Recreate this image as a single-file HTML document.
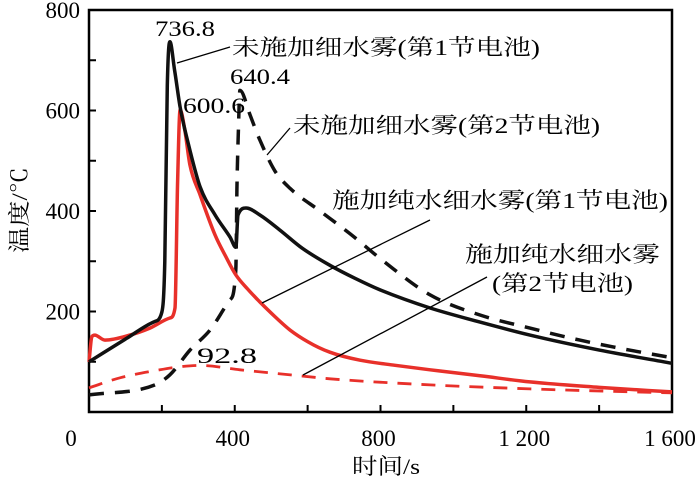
<!DOCTYPE html>
<html><head><meta charset="utf-8"><style>
html,body{margin:0;padding:0;background:#fff;}
svg{display:block;font-family:"Liberation Serif","Noto Serif CJK SC",serif;}
</style></head><body>
<svg id="chart" width="700" height="486" viewBox="0 0 700 486">
<g id="axes"></g>
<g id="series"></g>
<g id="annot" font-size="22" fill="#000">
  <text x="155" y="36" textLength="60" lengthAdjust="spacingAndGlyphs">736.8</text>
  <text x="230" y="84" textLength="60" lengthAdjust="spacingAndGlyphs">640.4</text>
  <text x="183" y="113" textLength="62" lengthAdjust="spacingAndGlyphs">600.6</text>
  <text x="197" y="363" textLength="60" lengthAdjust="spacingAndGlyphs">92.8</text>
  <text x="232" y="55" textLength="308" lengthAdjust="spacingAndGlyphs">未施加细水雾(第1节电池)</text>
  <text x="293" y="133" textLength="307" lengthAdjust="spacingAndGlyphs">未施加细水雾(第2节电池)</text>
  <text x="332" y="208" textLength="336" lengthAdjust="spacingAndGlyphs">施加纯水细水雾(第1节电池)</text>
  <text x="465" y="262" textLength="195" lengthAdjust="spacingAndGlyphs">施加纯水细水雾</text>
  <text x="492" y="291" textLength="141" lengthAdjust="spacingAndGlyphs">(第2节电池)</text>
  <g stroke="#000" stroke-width="1.3">
    <line x1="177" y1="63" x2="230" y2="47"/>
    <line x1="267" y1="155" x2="290" y2="128"/>
    <line x1="262" y1="303" x2="430" y2="220"/>
    <line x1="303" y1="375" x2="487" y2="277"/>
  </g>
  <text x="352" y="474" textLength="68" lengthAdjust="spacingAndGlyphs">时间/s</text>
  <text transform="translate(27,253) rotate(-90)" textLength="86" lengthAdjust="spacingAndGlyphs">温度/℃</text>
</g>
</svg>
<script>
const xTicks=[0,200,400,600,800,1000,1200,1400,1600];
const xLabels=[[0,"0"],[400,"400"],[800,"800"],[1200,"1 200"],[1600,"1 600"]];
const yTicks=[100,200,300,400,500,600,700];
const yLabels=[200,400,600,800];
// series data: time (s) and temperature (°C)
const blackSolidT=[0,100,180,200,208,215,222,235,250,277,305,346,387,403,409,431,469,524,585,661,730,799,936,1073,1210,1402,1600];
const blackSolidV=[100,145,180,199,300,650,737,680,607,521,448,392,348,328,392,406,392,362,326,292,266,243,207,179,153,123,97];
const redSolidT=[0,8,16,44,112,167,222,236,243,250,263,277,305,346,375,403,435,469,510,552,600,661,744,840,936,1073,1210,1400,1600];
const redSolidV=[100,150,153,143,153,167,187,207,450,601,561,492,432,352,310,273,245,219,190,163,140,119,103,93,84,72,60,49,40];
const blackDashT=[0,181,222,277,332,387,403,406,410,414,442,469,510,552,634,716,812,936,1073,1210,1347,1485,1600];
const blackDashV=[34,54,74,123,163,223,283,442,561,640,591,541,480,445,400,355,298,233,193,167,143,123,108];
const redDashT=[0,85,195,250,305,414,579,661,936,1210,1600];
const redDashV=[48,68,84,90,92.8,84,72,66,54,46,38];

const X0=89,X1=672,Y0=412,Y1=10;
const xs=t=>X0+(X1-X0)*t/1600;
const ys=v=>Y0-(Y0-Y1)*v/800;
const NS="http://www.w3.org/2000/svg";
const axes=document.getElementById('axes');
const ser=document.getElementById('series');
function mk(tag,attrs,parent){const e=document.createElementNS(NS,tag);for(const k in attrs)e.setAttribute(k,attrs[k]);parent.appendChild(e);return e;}

const frame=mk('rect',{x:X0,y:Y1,width:X1-X0,height:Y0-Y1,fill:'none',stroke:'#000','stroke-width':2.5},axes);


xTicks.forEach(t=>{const l=mk('line',{x1:xs(t),x2:xs(t),y1:Y0,y2:Y0-7,stroke:'#000','stroke-width':2},axes);

});
yTicks.forEach(v=>{const l=mk('line',{x1:X0,x2:X0+7,y1:ys(v),y2:ys(v),stroke:'#000','stroke-width':2},axes);

});
xLabels.forEach(([t,s])=>{const e=mk('text',{x:t===0?xs(t)-18:xs(t)-2,y:446,'text-anchor':'middle','font-size':23},axes);e.textContent=s;

});
yLabels.forEach(v=>{const e=mk('text',{x:80,y:ys(v)+8,'text-anchor':'end','font-size':23},axes);e.textContent=v;

});

function monoPath(T,V){
  const P=T.map((t,i)=>[xs(t),ys(V[i])]);const n=P.length;
  const d=[],m=[];
  for(let i=0;i<n-1;i++){const dx=P[i+1][0]-P[i][0];d.push(dx===0?0:(P[i+1][1]-P[i][1])/dx);}
  m[0]=d[0];m[n-1]=d[n-2];
  for(let i=1;i<n-1;i++){m[i]=(d[i-1]*d[i]<=0)?0:(d[i-1]+d[i])/2;}
  for(let i=0;i<n-1;i++){if(d[i]===0){m[i]=0;m[i+1]=0;continue;}const a=m[i]/d[i],b=m[i+1]/d[i],s=a*a+b*b;if(s>9){const k=3/Math.sqrt(s);m[i]=k*a*d[i];m[i+1]=k*b*d[i];}}
  let s='M'+P[0][0].toFixed(1)+','+P[0][1].toFixed(1);
  for(let i=0;i<n-1;i++){const dx=(P[i+1][0]-P[i][0])/3;
    s+='C'+(P[i][0]+dx).toFixed(1)+','+(P[i][1]+m[i]*dx).toFixed(1)+' '+(P[i+1][0]-dx).toFixed(1)+','+(P[i+1][1]-m[i+1]*dx).toFixed(1)+' '+P[i+1][0].toFixed(1)+','+P[i+1][1].toFixed(1);}
  return s;
}
function line(T,V,color,w,dash,name){
  const p=mk('path',{d:monoPath(T,V),fill:'none',stroke:color,'stroke-width':w,'stroke-linejoin':'round','stroke-linecap':'butt'},ser);
  if(dash)p.setAttribute('stroke-dasharray',dash);
  
  
}
line(blackDashT,blackDashV,'#111',3.5,'15 11','series-untreated-cell2');
line(redDashT,redDashV,'#e8302a',2.8,'14 10','series-mist-cell2');
line(redSolidT,redSolidV,'#e8302a',3.5,null,'series-mist-cell1');
line(blackSolidT,blackSolidV,'#111',3.5,null,'series-untreated-cell1');
</script>
</body></html>
